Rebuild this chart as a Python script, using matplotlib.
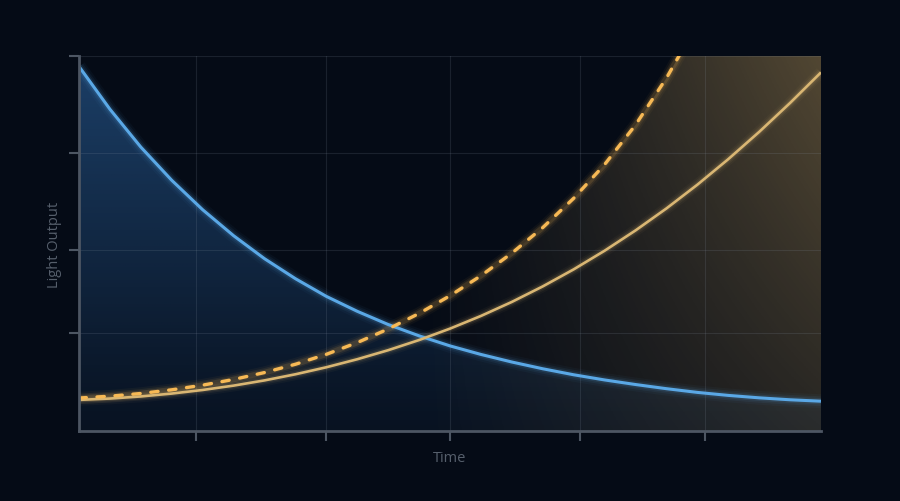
import numpy as np
import matplotlib
matplotlib.use("Agg")
import matplotlib.pyplot as plt
from matplotlib.patches import Polygon

# values (y axis 0-100, x axis 0-6)
t = [0, 0.25, 0.5, 0.75, 1, 1.25, 1.5, 1.75, 2, 2.25, 2.5, 2.75, 3,
     3.25, 3.5, 3.75, 4, 4.25, 4.5, 4.75, 5, 5.25, 5.5, 5.75, 6]
blue_decay = [97.2, 85.8, 75.7, 66.85, 59.0, 52.08, 45.95, 40.62, 35.9, 31.92, 28.4, 25.38, 22.7,
              20.42, 18.4, 16.6, 15.0, 13.62, 12.4, 11.29, 10.3, 9.5, 8.85, 8.33, 7.95]
warm_rise = [8.3, 8.66, 9.22, 9.99, 10.95, 12.11, 13.5, 15.13, 17.0, 19.14, 21.55, 24.26, 27.3,
             30.68, 34.42, 38.56, 43.1, 48.07, 53.48, 59.34, 65.67, 72.48, 79.75, 87.47, 95.62]
t_dash = [0, 0.25, 0.5, 0.75, 1, 1.25, 1.5, 1.75, 2, 2.25, 2.5, 2.75, 3,
          3.25, 3.5, 3.75, 4, 4.25, 4.5, 4.75, 5]
dash_rise = [8.8, 9.29, 10.01, 10.99, 12.23, 13.75, 15.59, 17.8, 20.45, 23.58, 27.2, 31.35, 36.07,
             41.4, 47.43, 54.24, 62.05, 71.05, 81.6, 94.1, 108.6]

xtick_pos = [0.95, 2.0, 3.0, 4.05, 5.06]
ytick_pos = [26.1, 48.3, 74.1, 100]

BG = '#050b16'
BLUE = '#5aa8e6'
GOLD = '#d9b673'
AMBER = '#f7b955'
AXIS = '#4d5663'
LABEL = '#565f6c'

plt.rcParams['font.family'] = ['Open Sans', 'DejaVu Sans']

fig = plt.figure(figsize=(9, 5.02), dpi=100, facecolor=BG)
ax = fig.add_axes([0.0878, 0.1394, 0.8244, 0.7471])
ax.set_facecolor(BG)
ax.set_xlim(0, 6)
ax.set_ylim(0, 100)

# gradient fills, clipped to the area under the curves
gx, gy = np.meshgrid(np.linspace(0, 6, 300), np.linspace(0, 100, 300))

blue_img = np.zeros((300, 300, 4))
blue_img[..., 0], blue_img[..., 1], blue_img[..., 2] = 0.20, 0.46, 0.74
blue_img[..., 3] = 0.07 + 0.43 * (gy / 100) ** 1.1
im1 = ax.imshow(blue_img, extent=[0, 6, 0, 100], origin='lower', aspect='auto', zorder=1)
clip1 = Polygon([(0, 0)] + list(zip(t, blue_decay)) + [(6, 0)], closed=True,
                transform=ax.transData, facecolor='none', edgecolor='none')
ax.add_patch(clip1)
im1.set_clip_path(clip1)

gold_img = np.zeros((300, 300, 4))
gold_img[..., 0], gold_img[..., 1], gold_img[..., 2] = 0.86, 0.70, 0.40
gold_img[..., 3] = 0.36 * np.clip((gx - 2.7) / 3.3, 0, 1) ** 1.1 * (0.45 + 0.55 * gy / 100)
im2 = ax.imshow(gold_img, extent=[0, 6, 0, 100], origin='lower', aspect='auto', zorder=1)
clip2 = Polygon([(0, 0)] + list(zip(t_dash, dash_rise)) + [(6, dash_rise[-1]), (6, 0)],
                closed=True, transform=ax.transData, facecolor='none', edgecolor='none')
ax.add_patch(clip2)
im2.set_clip_path(clip2)

# grid
ax.set_xticks(xtick_pos)
ax.set_yticks(ytick_pos)
ax.grid(True, color='#8a97a8', alpha=0.16, lw=0.8, zorder=2)
ax.set_axisbelow(False)

# glow behind the lines
for w, a in [(10, 0.04), (7, 0.07), (4.5, 0.12)]:
    ax.plot(t, blue_decay, color=BLUE, lw=w, alpha=a, zorder=3, solid_capstyle='butt')
    ax.plot(t, warm_rise, color=GOLD, lw=w * 0.85, alpha=a, zorder=3, solid_capstyle='butt')
    ax.plot(t_dash, dash_rise, color=AMBER, lw=w * 0.9, alpha=a * 1.1, zorder=3)

ax.plot(t, blue_decay, color=BLUE, lw=2.2, zorder=5, solid_capstyle='butt')
ax.plot(t, warm_rise, color=GOLD, lw=1.9, zorder=5, solid_capstyle='butt')
ax.plot(t_dash, dash_rise, color=AMBER, lw=2.4, zorder=5, linestyle=(0, (2.2, 3.2)),
        dash_capstyle='round')

# axes styling
for side in ['top', 'right']:
    ax.spines[side].set_visible(False)
for side in ['left', 'bottom']:
    ax.spines[side].set_color(AXIS)
    ax.spines[side].set_linewidth(2)
    ax.spines[side].set_zorder(6)
ax.tick_params(colors=AXIS, length=7, width=1.5, direction='out',
               labelleft=False, labelbottom=False)

ax.set_xlabel('Time', color=LABEL, fontsize=10.5, labelpad=7)
ax.set_ylabel('Light Output', color=LABEL, fontsize=10.5, labelpad=5)

fig.savefig('out.png', dpi=100, facecolor=BG)
